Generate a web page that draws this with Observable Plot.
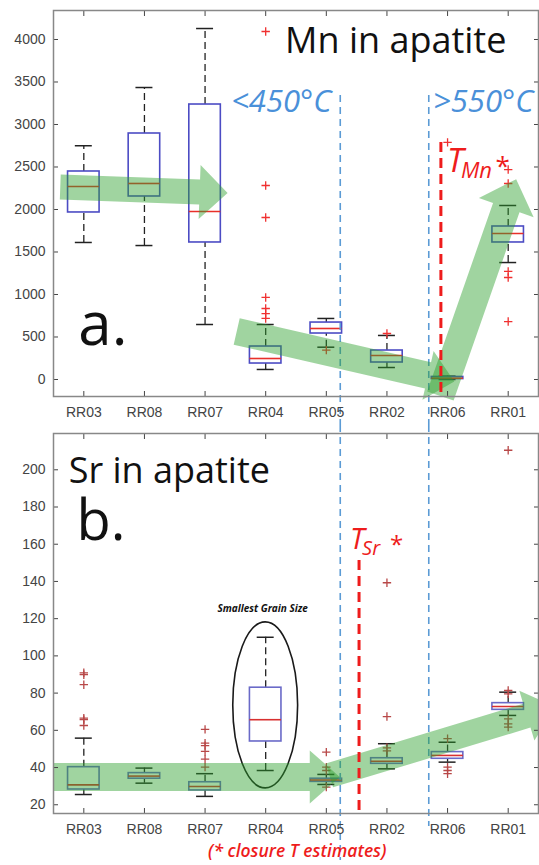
<!DOCTYPE html>
<html><head><meta charset="utf-8">
<script src="https://cdn.jsdelivr.net/npm/d3@7"></script>
<script src="https://cdn.jsdelivr.net/npm/@observablehq/plot@0.6"></script>
<style>
html,body{margin:0;padding:0;background:#fff;overflow:hidden;}
#chart{position:relative;width:539px;height:865px;background:#fff;}
#chart svg{display:block;}
</style></head><body><div id="chart"></div>
<script>
// ---------- data ----------
const categories = ["RR03","RR08","RR07","RR04","RR05","RR02","RR06","RR01"];

// Mn in apatite (ppm)
const mnLow    = [1612, 1576,  647, 118, 380, 141,  0, 1376];
const mnQ1     = [1965, 2153, 1612, 188, 541, 200,  5, 1612];
const mnMedian = [2270, 2306, 1976, 247, 600, 282, 15, 1718];
const mnQ3     = [2447, 2894, 3235, 388, 670, 341, 30, 1800];
const mnHigh   = [2750, 3435, 4129, 647, 718, 518, 40, 2047];
const mnOutliers = [[], [], [], [4094, 2282, 1906, 965, 835, 776, 718], [345], [541], [2790], [2470, 2306, 1271, 1200, 682]];
const mnTicks = [0, 500, 1000, 1500, 2000, 2500, 3000, 3500, 4000];

// Sr in apatite (ppm)
const srLow    = [25.5, 31.6, 24.5,  38.4, 30.9, 39.3, 42.9, 68.0];
const srQ1     = [28.2, 34.0, 27.7,  54.0, 32.3, 42.0, 44.7, 71.0];
const srMedian = [30.7, 35.4, 29.8,  65.7, 33.3, 43.4, 46.5, 72.8];
const srQ3     = [40.2, 37.0, 32.1,  82.9, 34.0, 45.0, 48.3, 74.6];
const srHigh   = [55.8, 39.7, 36.7, 110.0, 36.3, 52.8, 53.6, 80.5];
const srOutliers = [[90.9, 89.9, 84.5, 66.5, 65.7, 62.6], [], [60.5, 53.1, 51.8, 48.7, 44.5, 40.2], [], [48.3, 40.2, 38.4, 29.5], [139.3, 67.4, 50.6, 48.9], [55.5, 40.2, 38.4, 36.7], [210.5, 81.4, 79.6, 66.2, 63.5, 61.7]];
const srTicks = [20, 40, 60, 80, 100, 120, 140, 160, 180, 200];

// annotations (category index, value)
const tempBoundaries = [4.23, 5.69];         // blue dashed lines
const mnClosure = 5.89, srClosure = 4.54;   // red dashed lines
const mnArrows = [
  {from: [-0.38, 2259], to: [2.38, 2188], shaft: 25, head: 54, headLen: 28},
  {from: [2.53, 559], to: [6.12, -29], shaft: 27, head: 50, headLen: 27},
  {from: [5.89, -200], to: [7.14, 2350], shaft: 28, head: 58, headLen: 30}
];
const srArrows = [
  {from: [-0.5, 34.7], to: [4.23, 34.7], shaft: 28, head: 53, headLen: 30},
  {from: [4.06, 35.5], to: [7.79, 72.3], shaft: 25, head: 52, headLen: 30}
];

// ---------- helpers ----------
const xIdx = d3.range(categories.length);
const rowsOf = (lo, q1, md, q3, hi) => categories.map((c, i) => ({i, c, low: lo[i], q1: q1[i], med: md[i], q3: q3[i], high: hi[i]}));
const outsOf = (o) => categories.flatMap((c, i) => o[i].map(v => ({i, c, v})));

const plus = {draw(ctx, size) { const r = Math.sqrt(size / Math.PI); ctx.moveTo(-r, 0); ctx.lineTo(r, 0); ctx.moveTo(0, -r); ctx.lineTo(0, r); }};

function boxMarks(rows, outs, c) {
  return [
    Plot.ruleX(rows, {x: "i", y1: "q3", y2: "high", stroke: "#222", strokeWidth: 1.3, strokeDasharray: "7,4"}),
    Plot.ruleX(rows, {x: "i", y1: "low", y2: "q1", stroke: "#222", strokeWidth: 1.3, strokeDasharray: "7,4"}),
    Plot.ruleY(rows, {y: "high", x1: d => d.i - 0.14, x2: d => d.i + 0.14, stroke: "#222", strokeWidth: 1.5}),
    Plot.ruleY(rows, {y: "low", x1: d => d.i - 0.14, x2: d => d.i + 0.14, stroke: "#222", strokeWidth: 1.5}),
    Plot.rect(rows, {x1: d => d.i - 0.26, x2: d => d.i + 0.26, y1: "q1", y2: "q3", fill: "none", stroke: c.box, strokeWidth: 1.6}),
    Plot.ruleY(rows, {y: "med", x1: d => d.i - 0.26, x2: d => d.i + 0.26, stroke: c.median, strokeWidth: 1.6}),
    Plot.dot(outs, {x: "i", y: "v", symbol: plus, r: 4.2, stroke: c.out, fill: "none", strokeWidth: 1.3})
  ];
}

function arrowPath(x0, y0, x1, y1, sw, hw, hl) {
  const dx = x1 - x0, dy = y1 - y0, L = Math.hypot(dx, dy), ux = dx / L, uy = dy / L, nx = -uy, ny = ux;
  const bx = x1 - ux * hl, by = y1 - uy * hl;
  const p = [
    [x0 + nx * sw / 2, y0 + ny * sw / 2], [bx + nx * sw / 2, by + ny * sw / 2], [bx + nx * hw / 2, by + ny * hw / 2],
    [x1, y1], [bx - nx * hw / 2, by - ny * hw / 2], [bx - nx * sw / 2, by - ny * sw / 2], [x0 - nx * sw / 2, y0 - ny * sw / 2]
  ];
  return "M" + p.map(q => q.join(",")).join("L") + "Z";
}
function arrowLayer(arrows) {
  return (index, scales) => {
    const g = d3.create("svg:g");
    for (const a of arrows) {
      g.append("path")
        .attr("d", arrowPath(scales.x(a.from[0]), scales.y(a.from[1]), scales.x(a.to[0]), scales.y(a.to[1]), a.shaft, a.head, a.headLen))
        .attr("fill", "#2ca02c").attr("fill-opacity", 0.45);
    }
    return g.node();
  };
}
function axes(ticks, labelPad) {
  return [
    Plot.axisY({ticks, tickSize: -5, tickPadding: 13, tickFormat: d => String(d), color: "#444", fontSize: 14, label: null}),
    Plot.axisY({anchor: "right", ticks, tickSize: -5, tickFormat: () => "", color: "#444", label: null}),
    Plot.axisX({anchor: "top", ticks: xIdx, tickSize: -5, tickFormat: () => "", color: "#444", label: null}),
    Plot.axisX({anchor: "bottom", ticks: xIdx, tickSize: -5, tickPadding: labelPad, tickFormat: i => categories[i], color: "#444", fontSize: 14, label: null}),
    Plot.frame({stroke: "#888", strokeWidth: 1.5})
  ];
}
const sans = "Open Sans";
const txt = (s, x, y, o) => Plot.text([s], {x, y, text: d => d, textAnchor: "start", fontFamily: sans, ...o});

// ---------- panel a: Mn ----------
const mnRows = rowsOf(mnLow, mnQ1, mnMedian, mnQ3, mnHigh);
const panelA = Plot.plot({
  width: 539, height: 425, marginLeft: 53, marginRight: 1, marginTop: 10, marginBottom: 29,
  style: {fontFamily: "Liberation Sans, Arial, sans-serif", background: "white"},
  x: {type: "linear", domain: [-0.5, 7.5]},
  y: {domain: [-200, 4341]},
  marks: [
    ...boxMarks(mnRows, outsOf(mnOutliers), {box: "#4c4cc4", median: "#e8302a", out: "#f03030"}),
    Plot.ruleX(tempBoundaries, {x: d => d, y1: 3341, y2: -541, stroke: "#5b9bd5", strokeWidth: 1.6, strokeDasharray: "7,5"}),
    arrowLayer(mnArrows),
    Plot.ruleX([mnClosure], {x: d => d, y1: 2788, y2: -200, stroke: "#ee1c1c", strokeWidth: 3, strokeDasharray: "10,6"}),
    ...axes(mnTicks, 16),
    txt("Mn in apatite", 3.32, 3976, {fontSize: 36, fill: "#111"}),
    txt("a.", -0.09, 626, {fontSize: 60, fill: "#111"}),
    txt("<450°C", 2.43, 3259, {fontSize: 31, fontStyle: "italic", fill: "#4a90d9"}),
    txt(">550°C", 5.76, 3259, {fontSize: 31, fontStyle: "italic", fill: "#4a90d9"}),
    txt("T", 5.99, 2560, {fontSize: 33, fontStyle: "italic", fill: "#ee1c1c"}),
    txt("Mn", 6.22, 2459, {fontSize: 22, fontStyle: "italic", fill: "#ee1c1c"}),
    txt("*", 6.79, 2498, {fontSize: 26, fill: "#ee1c1c"})
  ]
});

// ---------- panel b: Sr ----------
const srRows = rowsOf(srLow, srQ1, srMedian, srQ3, srHigh);
const ellipseLayer = (index, scales) => {
  const cx = scales.x(3), cy = scales.y(73.4);
  return d3.create("svg:ellipse").attr("cx", cx).attr("cy", cy)
    .attr("rx", scales.x(3.535) - cx).attr("ry", cy - scales.y(118))
    .attr("fill", "none").attr("stroke", "#1a1a1a").attr("stroke-width", 1.6).node();
};
const panelB = Plot.plot({
  width: 539, height: 440, marginLeft: 53, marginRight: 1, marginTop: 8, marginBottom: 52,
  style: {fontFamily: "Liberation Sans, Arial, sans-serif", background: "white"},
  x: {type: "linear", domain: [-0.5, 7.5]},
  y: {domain: [15.3, 219.5]},
  marks: [
    ...boxMarks(srRows, outsOf(srOutliers), {box: "#6a6ac8", median: "#d83030", out: "#b84848"}),
    ellipseLayer,
    Plot.ruleX([tempBoundaries[0]], {x: d => d, y1: 223.8, y2: -9.9, stroke: "#5b9bd5", strokeWidth: 1.6, strokeDasharray: "7,5"}),
    Plot.ruleX([tempBoundaries[1]], {x: d => d, y1: 223.8, y2: 8.3, stroke: "#5b9bd5", strokeWidth: 1.6, strokeDasharray: "7,5"}),
    arrowLayer(srArrows),
    Plot.ruleX([srClosure], {x: d => d, y1: 151.3, y2: 14.2, stroke: "#ee1c1c", strokeWidth: 3, strokeDasharray: "10,6"}),
    ...axes(srTicks, 15.5),
    txt("Sr in apatite", -0.25, 199.3, {fontSize: 36, fill: "#111"}),
    txt("b.", -0.12, 171.8, {fontSize: 56, fill: "#111"}),
    Plot.text(["Smallest Grain Size"], {x: 2.95, y: 125.5, text: d => d, fontFamily: sans, fontSize: 10, fontStyle: "italic", fontWeight: "bold", fill: "#111", letterSpacing: "-0.3px"}),
    txt("T", 4.39, 162.5, {fontSize: 29, fontStyle: "italic", fill: "#ee1c1c"}),
    txt("Sr", 4.59, 157.4, {fontSize: 20, fontStyle: "italic", fill: "#ee1c1c"}),
    txt("*", 5.05, 159.2, {fontSize: 24, fill: "#ee1c1c"}),
    Plot.text(["(* closure T estimates)"], {x: 3.52, frameAnchor: "bottom", dy: 43.5, text: d => d, fontFamily: sans, fontSize: 17.5, fontWeight: 600, fontStyle: "italic", letterSpacing: "0.6px", fill: "#ee1c1c"})
  ]
});

const host = document.getElementById("chart");
host.append(panelA, panelB);
</script>
</body></html>
